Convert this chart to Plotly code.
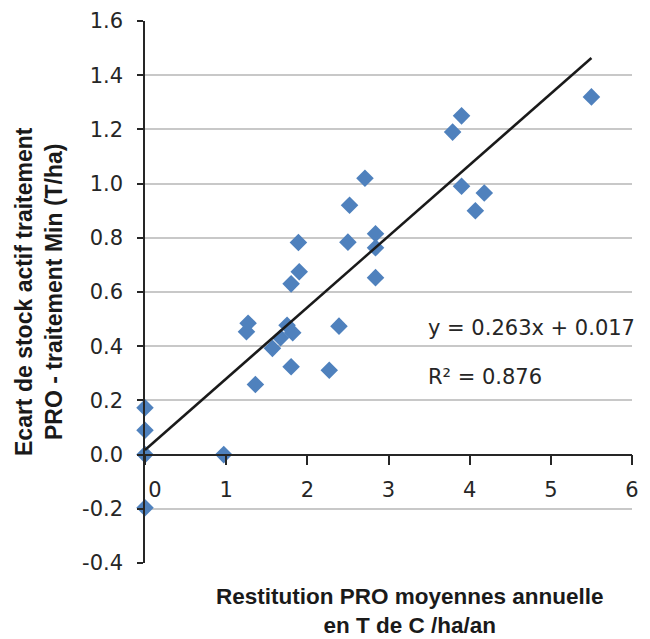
import plotly.graph_objects as go

# Data
x_vals = [5.50, 3.90, 3.79, 2.71, 3.90, 4.18, 4.07, 2.52, 1.89, 2.50,
          2.84, 2.84, 1.90, 2.84, 1.80, 1.27, 1.25, 1.75, 1.82, 1.67,
          1.57, 2.39, 1.80, 2.27, 1.36, 0.00, 0.00, 0.00, 0.97, 0.00]
y_vals = [1.32, 1.25, 1.19, 1.02, 0.99, 0.965, 0.90, 0.92, 0.783, 0.784,
          0.815, 0.763, 0.675, 0.653, 0.630, 0.485, 0.453, 0.477, 0.450, 0.431,
          0.392, 0.474, 0.324, 0.311, 0.259, 0.173, 0.090, 0.000, 0.000, -0.196]

slope = 0.263
intercept = 0.017
trend_x = [0.0, 5.5]
trend_y = [slope * v + intercept for v in trend_x]

y_tickvals = [-0.4, -0.2, 0.0, 0.2, 0.4, 0.6, 0.8, 1.0, 1.2, 1.4, 1.6]
y_ticktext = ["-0.4", "-0.2", "0.0", "0.2", "0.4", "0.6", "0.8", "1.0", "1.2", "1.4", "1.6"]
x_tickvals = [0, 1, 2, 3, 4, 5, 6]
x_ticktext = ["\u00a0\u00a0\u00a00", "1", "2", "3", "4", "5", "6"]

eq_text = "y = 0.263x + 0.017"
r2_text = "R² = 0.876"
x_title = "Restitution PRO moyennes annuelle<br>en T de C /ha/an"
y_title = "Ecart de stock actif traitement<br>PRO - traitement Min (T/ha)"

fig = go.Figure()
fig.add_trace(go.Scatter(
    x=x_vals, y=y_vals, mode="markers",
    marker=dict(symbol="diamond", size=13.5, color="#4f81bd", line=dict(width=0)),
    cliponaxis=False, showlegend=False,
))
fig.add_trace(go.Scatter(
    x=trend_x, y=trend_y, mode="lines",
    line=dict(color="#1a1a1a", width=2.5),
    cliponaxis=False, showlegend=False,
))

tick_font = dict(family="DejaVu Sans", size=21, color="#262626")
title_font = dict(family="Liberation Sans, Arial, sans-serif", size=22.5, color="#1a1a1a")

fig.update_layout(
    width=650, height=639,
    margin=dict(l=145, r=18, t=21, b=76, autoexpand=False),
    paper_bgcolor="white", plot_bgcolor="white",
    xaxis=dict(
        range=[0, 6], tickvals=x_tickvals, ticktext=x_ticktext,
        showgrid=False, zeroline=False,
        showline=True, linecolor="#262626", linewidth=1.5,
        ticks="outside", ticklen=10, tickwidth=1.5, tickcolor="#262626",
        tickfont=tick_font, anchor="free", position=0.2,
        ticklabelstandoff=6,
    ),
    yaxis=dict(
        range=[-0.4, 1.6], tickvals=y_tickvals, ticktext=y_ticktext,
        showgrid=True, gridcolor="#c8c8c8", gridwidth=1.5, zeroline=False,
        showline=True, linecolor="#262626", linewidth=1.5,
        ticks="outside", ticklen=6, tickwidth=1.5, tickcolor="#262626",
        tickfont=tick_font, ticklabelstandoff=10,
    ),
    annotations=[
        dict(x=3.465, y=0.468, xref="x", yref="y", text=eq_text, showarrow=False,
             xanchor="left", yanchor="middle", font=dict(family="DejaVu Sans", size=21, color="#262626")),
        dict(x=3.465, y=0.286, xref="x", yref="y", text=r2_text, showarrow=False,
             xanchor="left", yanchor="middle", font=dict(family="DejaVu Sans", size=21, color="#262626")),
        dict(x=0.544, y=0, xref="paper", yref="paper", text="<b>" + x_title + "</b>",
             showarrow=False, xanchor="center", yanchor="middle", yshift=-48,
             font=title_font),
        dict(x=0, y=0.5, xref="paper", yref="paper", text="<b>" + y_title + "</b>",
             showarrow=False, xanchor="center", yanchor="middle", xshift=-106,
             textangle=-90, font=dict(family="Liberation Sans, Arial, sans-serif", size=23, color="#1a1a1a")),
    ],
)

fig.write_html("out.html")
